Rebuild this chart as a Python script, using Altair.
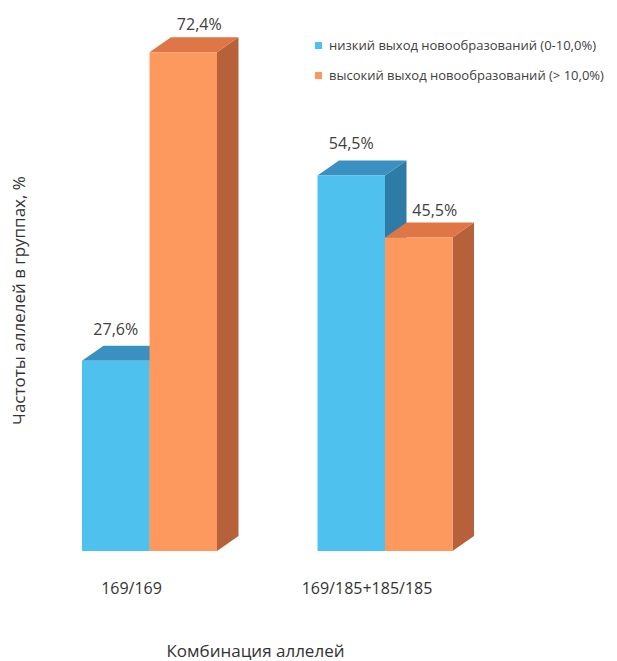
import altair as alt
import pandas as pd

categories = ["169/169", "169/185+185/185"]
series = ["низкий выход новообразований (0-10,0%)", "высокий выход новообразований (> 10,0%)"]
low_values = [27.6, 54.5]
high_values = [72.4, 45.5]

front_colors = ["#4FC1EE", "#FD995E"]
top_colors = ["#3A90C0", "#DE7646"]
side_colors = ["#2E7BA8", "#B7613A"]

# layout constants (pixels / percent)
W, H = 617, 661
PX_PER_PCT = 6.89
ZERO_PX = 551
Y_MIN = -(H - ZERO_PX) / PX_PER_PCT
Y_MAX = ZERO_PX / PX_PER_PCT
GROUP0, GROUP_STEP = 149.5, 235.5
BW = 67.5
DX = 21.5
DY = 15 / PX_PER_PCT

rows, sides, tops = [], [], []
for i, cat in enumerate(categories):
    for j, vals in enumerate([low_values, high_values]):
        v = vals[i]
        xl = GROUP0 + GROUP_STEP * i - BW + BW * j
        xr = xl + BW
        bid = f"{i}-{j}"
        rows.append(dict(cat=cat, series=series[j], sidx=j, value=v, xl=xl, xr=xr,
                         xc=(xl + xr) / 2 + (16 if j == 1 else 0), bid=bid))
        sides.append(dict(bid=bid, x=xr, yt=v, yb=0, col=side_colors[j]))
        sides.append(dict(bid=bid, x=xr + DX, yt=v + DY, yb=DY, col=side_colors[j]))
        tops.append(dict(bid=bid, y=v, x1=xl, x2=xr, col=top_colors[j]))
        tops.append(dict(bid=bid, y=v + DY, x1=xl + DX, x2=xr + DX, col=top_colors[j]))

df = pd.DataFrame(rows)
df_side = pd.DataFrame(sides)
df_top = pd.DataFrame(tops)
df_cat = pd.DataFrame(dict(cat=categories,
                           x=[GROUP0 + GROUP_STEP * i - 18 for i in range(len(categories))]))

xs = alt.Scale(domain=[0, W], nice=False, zero=False)
ys = alt.Scale(domain=[Y_MIN, Y_MAX], nice=False, zero=False)

xaxis = alt.Axis(labels=False, ticks=False, domain=False, grid=False,
                 title="Комбинация аллелей", titleX=255, titleY=-10,
                 titleBaseline="middle", titleFont="Open Sans", titleFontSize=17,
                 titleFontWeight="normal", titleColor="#333333")
yaxis = alt.Axis(labels=False, ticks=False, domain=False, grid=False,
                 title="Частоты аллелей в группах, %", titleX=19, titleY=300,
                 titleAngle=-90, titleBaseline="middle", titleFont="Open Sans",
                 titleFontSize=17, titleFontWeight="normal", titleColor="#333333")

side = alt.Chart(df_side).mark_area(orient="vertical").encode(
    x=alt.X("x:Q", scale=xs, axis=xaxis),
    y=alt.Y("yt:Q", scale=ys, axis=yaxis),
    y2="yb:Q",
    detail="bid:N",
    color=alt.Color("col:N", scale=None),
)

top = alt.Chart(df_top).mark_area(orient="horizontal").encode(
    y=alt.Y("y:Q", scale=ys),
    x=alt.X("x1:Q", scale=xs),
    x2="x2:Q",
    detail="bid:N",
    color=alt.Color("col:N", scale=None),
)

front = alt.Chart(df).mark_rect().encode(
    x=alt.X("xl:Q", scale=xs),
    x2="xr:Q",
    y=alt.Y("value:Q", scale=ys),
    y2=alt.datum(0),
    color=alt.Color("series:N", scale=alt.Scale(domain=series, range=front_colors),
                    legend=alt.Legend(title=None, orient="none", legendX=312, legendY=39,
                                      symbolType="square", symbolSize=50,
                                      symbolStrokeWidth=0, labelFont="Open Sans",
                                      labelFontSize=13, labelColor="#404040",
                                      rowPadding=16, labelLimit=400)),
)

label_text = "replace(format(datum.value, '.1f'), '.', ',') + '%'"

def value_labels(sidx, dy):
    return alt.Chart(df).transform_filter(alt.datum.sidx == sidx).transform_calculate(
        lbl=label_text
    ).mark_text(font="Open Sans", fontSize=16, color="#404040", baseline="alphabetic",
                dy=dy).encode(
        x=alt.X("xc:Q", scale=xs),
        y=alt.Y("value:Q", scale=ys),
        text="lbl:N",
    )

cat_labels = alt.Chart(df_cat).mark_text(font="Open Sans", fontSize=16, color="#333333",
                                         baseline="middle", dy=38).encode(
    x=alt.X("x:Q", scale=xs),
    y=alt.datum(0, scale=ys),
    text="cat:N",
)

chart = alt.layer(side, top, front, value_labels(0, -26), value_labels(1, -22), cat_labels).properties(
    width=W, height=H, autosize=alt.AutoSizeParams(type="none"), padding=0,
    background="white",
).configure_view(stroke=None)

chart.save("out.html", embed_options={"renderer": "svg", "actions": False})
